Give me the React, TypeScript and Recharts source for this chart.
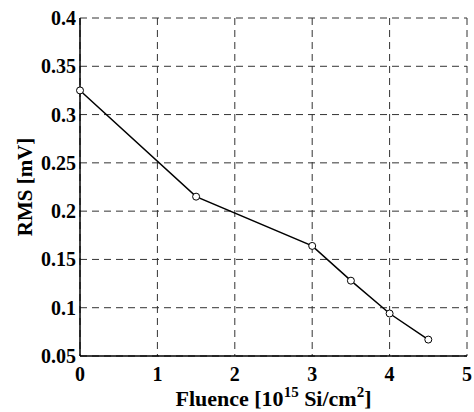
import React from "react";
import { LineChart, Line, XAxis, YAxis, CartesianGrid, Label } from "recharts";

const fluence = [0, 1.5, 3, 3.5, 4, 4.5];
const rms = [0.325, 0.215, 0.164, 0.128, 0.094, 0.067];
const xTicks = [0, 1, 2, 3, 4, 5];
const yTicks = [0.05, 0.1, 0.15, 0.2, 0.25, 0.3, 0.35, 0.4];

const data = fluence.map((f, i) => ({ fluence: f, rms: rms[i] }));

const font = "'Liberation Serif', 'Times New Roman', serif";
const textStyle = { fontFamily: font, fontWeight: 700, fontSize: 20, fill: "#000" };

const renderXTick = (props: any) => {
  const { x, y, payload } = props;
  return (
    <text key={`xt-${payload.value}`} x={x} y={y + 23} textAnchor="middle" style={textStyle}>
      {payload.value}
    </text>
  );
};

const renderYTick = (props: any) => {
  const { x, y, payload } = props;
  return (
    <text key={`yt-${payload.value}`} x={x - 2} y={y + 7} textAnchor="end" style={textStyle}>
      {payload.value}
    </text>
  );
};

function XTitle(props: any) {
  const vb = props.viewBox || {};
  const cx = vb.x + vb.width / 2;
  return (
    <text x={cx} y={vb.y + 50} textAnchor="middle" style={{ ...textStyle, fontSize: 22 }}>
      Fluence [10
      <tspan style={{ fontSize: 15 }} dy={-9}>15</tspan>
      <tspan dy={9}> Si/cm</tspan>
      <tspan style={{ fontSize: 15 }} dy={-9}>2</tspan>
      <tspan dy={9}>]</tspan>
    </text>
  );
}

function YTitle(props: any) {
  const vb = props.viewBox || {};
  const cy = vb.y + vb.height / 2;
  const x = 32;
  return (
    <text
      x={x}
      y={cy}
      textAnchor="middle"
      transform={`rotate(-90, ${x}, ${cy})`}
      style={{ ...textStyle, fontSize: 21 }}
    >
      RMS [mV]
    </text>
  );
}

export default function App() {
  return (
    <div style={{ position: "absolute", left: 0, top: 0, background: "#fff" }}>
      <LineChart width={474} height={412} data={data} margin={{ top: 18, right: 7, bottom: 0, left: 0 }}>
        <CartesianGrid stroke="#333" strokeDasharray="7 5" strokeWidth={1} />
        <XAxis
          dataKey="fluence"
          type="number"
          domain={[0, 5]}
          ticks={xTicks}
          height={56}
          tickLine={false}
          tickSize={0}
          axisLine={{ stroke: "#000", strokeWidth: 1.5 }}
          tick={renderXTick}
        >
          <Label content={<XTitle />} />
        </XAxis>
        <XAxis
          xAxisId="top"
          orientation="top"
          dataKey="fluence"
          type="number"
          domain={[0, 5]}
          height={0}
          tick={false}
          tickLine={false}
          axisLine={{ stroke: "#000", strokeWidth: 1.5 }}
        />
        <YAxis
          type="number"
          domain={[0.05, 0.4]}
          ticks={yTicks}
          width={80}
          tickLine={false}
          tickSize={0}
          axisLine={{ stroke: "#000", strokeWidth: 1.5 }}
          tick={renderYTick}
        >
          <Label content={<YTitle />} />
        </YAxis>
        <YAxis
          yAxisId="right"
          orientation="right"
          type="number"
          domain={[0.05, 0.4]}
          width={0}
          tick={false}
          tickLine={false}
          axisLine={{ stroke: "#000", strokeWidth: 1.5 }}
        />
        <Line
          dataKey="rms"
          stroke="#000"
          strokeWidth={1.5}
          dot={{ r: 3.5, stroke: "#000", strokeWidth: 1, fill: "#fff" }}
          activeDot={false}
          isAnimationActive={false}
        />
      </LineChart>
    </div>
  );
}
